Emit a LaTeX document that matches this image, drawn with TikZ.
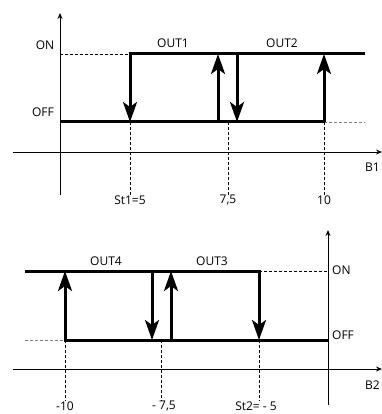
\documentclass[tikz,border=0pt]{standalone}
\usepackage{fontspec}
\setmainfont{Open Sans}
\usetikzlibrary{arrows.meta}
\begin{document}
\begin{tikzpicture}[x=1pt,y=-1pt,
  axis/.style={line width=0.9pt,-{Stealth[length=6pt,width=5pt]}},
  level/.style={line width=3pt},
  jump/.style={line width=3pt,-{Stealth[length=20pt,width=14pt,inset=5pt]}},
  guide/.style={line width=0.9pt,dash pattern=on 3pt off 2pt},
  faint/.style={line width=0.9pt,gray,dash pattern=on 3pt off 2pt},
  lbl/.style={font=\fontsize{12}{14}\selectfont,inner sep=0pt}]
\useasboundingbox (0,0) rectangle (381,414);
% ---------- top chart ----------
\coordinate (ta0) at (60,195); \coordinate (ta1) at (60,13);
\coordinate (tb0) at (13,152); \coordinate (tb1) at (382,152);
\draw[axis] (ta0) -- (ta1);
\draw[axis] (tb0) -- (tb1);
\coordinate (tonL) at (60,54); \coordinate (tonA) at (130,54); \coordinate (tonB) at (365,54);
\coordinate (toffL) at (60,122); \coordinate (toffA) at (130,122); \coordinate (toffB) at (324,122); \coordinate (toffC) at (365,122);
\draw[guide] (tonL) -- (tonA);
\draw[level] ([xshift=-1.5pt]tonA) -- (tonB);
\draw[level] (toffL) -- ([xshift=1.5pt]toffB);
\draw[faint] (toffB) -- (toffC);
\coordinate (tu1a) at (218,122); \coordinate (tu1b) at (218,54);
\coordinate (td2a) at (237,54); \coordinate (td2b) at (237,122);
\coordinate (tu2a) at (324,122); \coordinate (tu2b) at (324,54);
\draw[jump] (tonA) -- (toffA);
\draw[jump] (tu1a) -- (tu1b);
\draw[jump] (td2a) -- (td2b);
\draw[jump] (tu2a) -- (tu2b);
\node[lbl] (st1) at (130,200) {St1=5};
\node[lbl] (t75) at (228,200) {7,5};
\node[lbl] (t10) at (324,200) {10};
\coordinate (tg2) at (228,122);
\draw[guide] (toffA) -- (st1.north);
\draw[guide] (tg2) -- (t75.north);
\draw[guide] (tu2a) -- (t10.north);
\node[lbl] (ton) at (45,45) {ON};
\node[lbl] (toff) at (43,112) {OFF};
\node[lbl] (out1) at (173,43) {OUT1};
\node[lbl] (out2) at (282,43) {OUT2};
\node[lbl,anchor=west] (b1) at (365,167) {B1};
% ---------- bottom chart ----------
\coordinate (ba0) at (328,405); \coordinate (ba1) at (328,230);
\coordinate (bb0) at (13,369); \coordinate (bb1) at (382,369);
\draw[axis] (ba0) -- (ba1);
\draw[axis] (bb0) -- (bb1);
\coordinate (bonL) at (25,271); \coordinate (bonA) at (259,271); \coordinate (bonR) at (328,271);
\coordinate (boffL) at (25,340); \coordinate (boffA) at (65,340); \coordinate (boffR) at (328,340);
\draw[level] (bonL) -- ([xshift=1.5pt]bonA);
\draw[guide] (bonA) -- (bonR);
\draw[faint] (boffL) -- (boffA);
\draw[level] ([xshift=-1.5pt]boffA) -- (boffR);
\coordinate (bu1a) at (65,340); \coordinate (bu1b) at (65,271);
\coordinate (bd1a) at (152,271); \coordinate (bd1b) at (152,340);
\coordinate (bu2a) at (171,340); \coordinate (bu2b) at (171,271);
\coordinate (bd2a) at (259,271); \coordinate (bd2b) at (259,340);
\draw[jump] (bu1a) -- (bu1b);
\draw[jump] (bd1a) -- (bd1b);
\draw[jump] (bu2a) -- (bu2b);
\draw[jump] (bd2a) -- (bd2b);
\node[lbl] (m10) at (65,406) {-10};
\node[lbl] (m75) at (164,406) {- 7,5};
\node[lbl] (st2) at (256,406) {St2= - 5};
\coordinate (bg2) at (161,340);
\draw[guide] (bu1a) -- (m10.north);
\draw[guide] (bg2) -- ([xshift=-3pt]m75.north);
\draw[guide] (bd2b) -- ([xshift=3pt]st2.north);
\node[lbl,anchor=west] (bon) at (332,270) {ON};
\node[lbl,anchor=west] (boff) at (332,335) {OFF};
\node[lbl] (out4) at (106,261) {OUT4};
\node[lbl] (out3) at (212,261) {OUT3};
\node[lbl,anchor=west] (b2) at (365,385) {B2};
\end{tikzpicture}
\end{document}
